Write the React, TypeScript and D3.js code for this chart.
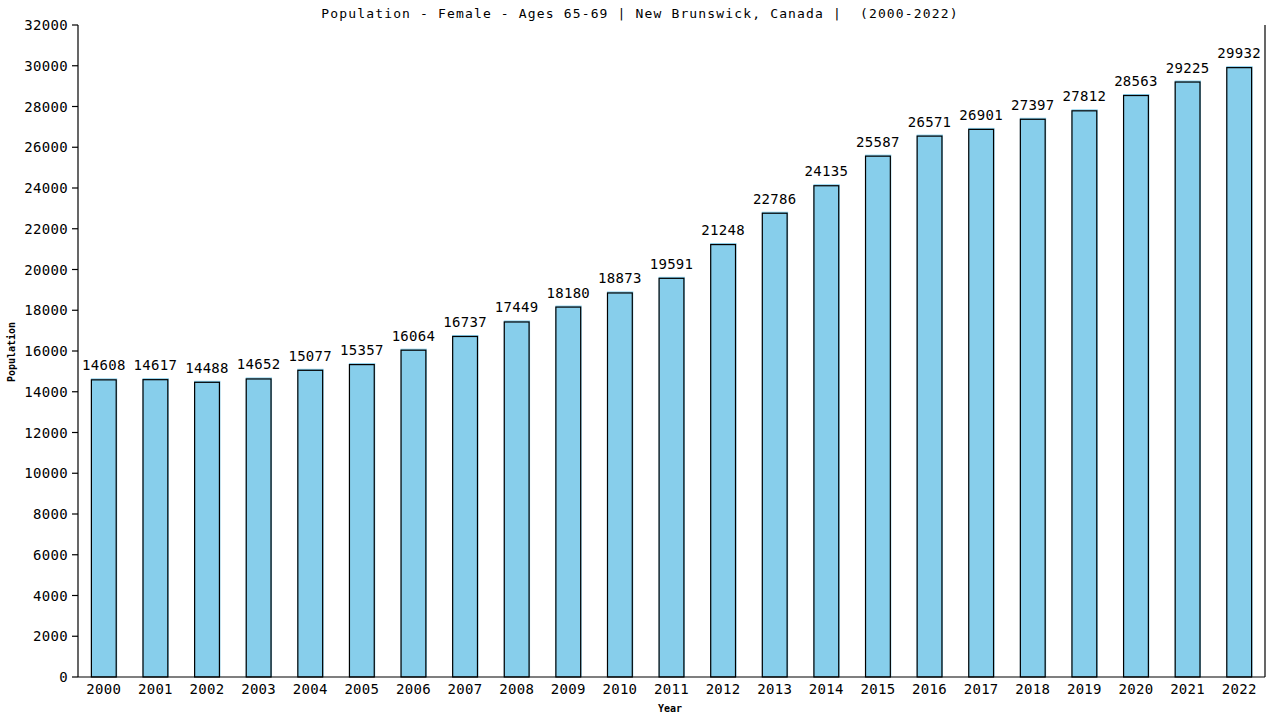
import React from "react";
import * as d3 from "d3";

const years = ["2000","2001","2002","2003","2004","2005","2006","2007","2008","2009","2010","2011","2012","2013","2014","2015","2016","2017","2018","2019","2020","2021","2022"];
const population = [14608,14617,14488,14652,15077,15357,16064,16737,17449,18180,18873,19591,21248,22786,24135,25587,26571,26901,27397,27812,28563,29225,29932];
const yTicks = [0,2000,4000,6000,8000,10000,12000,14000,16000,18000,20000,22000,24000,26000,28000,30000,32000];
const title = "Population - Female - Ages 65-69 | New Brunswick, Canada |  (2000-2022)";

const W = 1280, H = 720;
const left = 78, right = 1265, top = 25, bottom = 677;
const font = "'DejaVu Sans Mono', monospace";

export default function App() {
  const x = d3.scaleBand<string>().domain(years).range([left, right]).paddingInner(0.5).paddingOuter(0.25);
  const y = d3.scaleLinear().domain([0, 32000]).range([bottom, top]);
  const bw = x.bandwidth();
  return (
    <svg width={W} height={H} style={{ position: "absolute", left: 0, top: 0, background: "#fff" }}>
      <text x={640} y={18} textAnchor="middle" fontFamily={font} fontSize={13} letterSpacing={1.15} fill="#000" style={{ whiteSpace: "pre" }} xmlSpace="preserve">{title}</text>
      {years.map((yr, i) => {
        const bx = x(yr)!;
        const by = y(population[i]);
        return (
          <g key={yr}>
            <rect x={bx} y={by - 1} width={bw + 0.5} height={bottom - by + 1} fill="#87CEEB" />
            <rect x={bx + 0.5} y={by + 0.5} width={bw - 1} height={bottom - by - 0.5} fill="none" stroke="#000" strokeWidth={1.2} />
            <text x={bx + bw / 2} y={by - 9} textAnchor="middle" fontFamily={font} fontSize={14} letterSpacing={0.3} fill="#000">{population[i]}</text>
            <text x={bx + bw / 2} y={694} textAnchor="middle" fontFamily={font} fontSize={14} letterSpacing={0.3} fill="#000">{yr}</text>
          </g>
        );
      })}
      <line x1={left} x2={left} y1={top} y2={bottom} stroke="#000" strokeWidth={1.2} />
      <line x1={right} x2={right} y1={top} y2={bottom} stroke="#000" strokeWidth={1.2} />
      <line x1={left} x2={right} y1={bottom} y2={bottom} stroke="#000" strokeWidth={1.2} />
      {yTicks.map((t) => (
        <g key={t}>
          <line x1={left - 6} x2={left} y1={y(t)} y2={y(t)} stroke="#000" strokeWidth={1.2} />
          <text x={left - 10} y={y(t) + 5} textAnchor="end" fontFamily={font} fontSize={14} letterSpacing={0.3} fill="#000">{t}</text>
        </g>
      ))}
      <text x={670} y={712} textAnchor="middle" fontFamily={font} fontSize={10} fontWeight="bold" fill="#000">Year</text>
      <text transform={`translate(15,352) rotate(-90)`} textAnchor="middle" fontFamily={font} fontSize={10} fontWeight="bold" fill="#000">Population</text>
    </svg>
  );
}
